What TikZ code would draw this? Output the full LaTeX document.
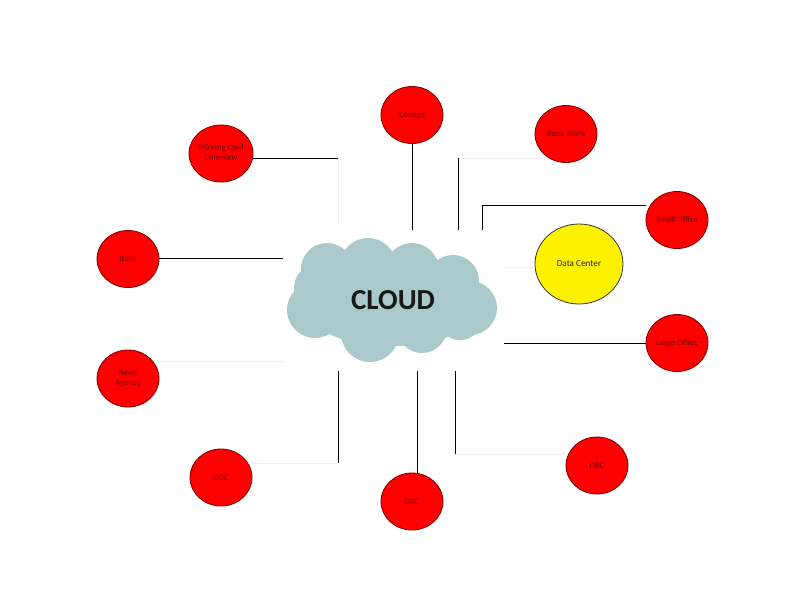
\documentclass[tikz,border=0pt]{standalone}
\usepackage{fontspec}
\setmainfont{Carlito}
\usetikzlibrary{shapes.geometric}
\definecolor{cloudc}{RGB}{170,201,202}
\definecolor{nodered}{RGB}{255,0,0}
\definecolor{txtred}{RGB}{110,0,0}
\definecolor{edgered}{RGB}{120,0,0}
\definecolor{faint}{RGB}{238,238,238}
\tikzset{
  place/.style={ellipse, fill=nodered, draw=edgered, line width=0.8pt, minimum width=62pt, minimum height=57pt, inner sep=0pt, font=\fontsize{8.6}{9.6}\selectfont, text=txtred, align=center},
  dcbox/.style={ellipse, fill=yellow, draw=black!80, line width=0.8pt, minimum width=88pt, minimum height=80pt, inner sep=0pt, font=\fontsize{9.2}{10}\selectfont, text=black!85},
  link/.style={draw=black, line width=1pt},
  faintlink/.style={draw=faint, line width=0.8pt},
  puff/.style={fill=cloudc}
}
\begin{document}
\begin{tikzpicture}[x=1pt,y=-1pt]
\useasboundingbox (0,0) rectangle (800,600);
\fill[white] (0,0) rectangle (800,600);
% cloud
\begin{scope}
\fill[puff] (392,304) ellipse [x radius=90, y radius=42];
\fill[puff] (327,269) circle (26);
\fill[puff] (368,266) circle (28);
\fill[puff] (412,270) circle (27);
\fill[puff] (453,281) circle (26);
\fill[puff] (470,308) circle (27);
\fill[puff] (460,318) circle (22);
\fill[puff] (422,328) circle (25);
\fill[puff] (370,333) circle (29);
\fill[puff] (315,310) circle (28);
\fill[puff] (318,288) circle (24);
\end{scope}
\node[font=\fontsize{29}{32}\selectfont\bfseries, text=black!90] (cloud) at (393,300) {CLOUD};

% nodes
\node[place] (college) at (412,115) {College};
\node[place] (pcc) at (221,153.5) {Printing Card\\Company};
\node[place] (book) at (566,134) {Book Store};
\node[place] (small) at (677,220) {Small Office};
\node[dcbox] (dc) at (579,264) {Data Center};
\node[place] (large) at (677,343) {Large Office};
\node[place] (bank) at (128,259) {Bank};
\node[place] (news) at (128,378.5) {News\\Agency};
\node[place] (odc) at (221,477.5) {ODC};
\node[place] (oac) at (412,501.5) {OAC};
\node[place] (obc) at (597,465.5) {OBC};

% free ends
\coordinate (pccEnd) at (338,158);
\coordinate (pccLow) at (338,225);
\coordinate (colEnd) at (412,230);
\coordinate (bookTop) at (458,158);
\coordinate (bookEnd) at (458,230);
\coordinate (smallCorner) at (482,205);
\coordinate (smallEnd) at (482,230);
\coordinate (bankEnd) at (283,258);
\coordinate (dcEnd) at (503,267);
\coordinate (largeEnd) at (504,343);
\coordinate (newsEnd) at (285,361);
\coordinate (odcCorner) at (338,463);
\coordinate (odcEnd) at (338,371);
\coordinate (oacEnd) at (417,371);
\coordinate (obcCorner) at (455,454);
\coordinate (obcEnd) at (455,371);

% faint connectors
\draw[faintlink] (pccEnd) -- (pccLow);
\draw[faintlink] (bookTop) -- (book.south west |- bookTop);
\draw[faintlink] (dcEnd) -- (dc.west |- dcEnd);
\draw[faintlink] (news.east |- newsEnd) -- (newsEnd);
\draw[faintlink] (odc.east |- odcCorner) -- (odcCorner);
\draw[faintlink] (obcCorner) -- (obc.west |- obcCorner);

% connectors
\draw[link] (pcc.east |- pccEnd) -- (pccEnd);
\draw[link] (college.south) -- (colEnd);
\draw[link] (bookTop) -- (bookEnd);
\draw[link] (small.west |- smallCorner) -- (smallCorner) -- (smallEnd);
\draw[link] (bank.east |- bankEnd) -- (bankEnd);
\draw[link] (large.west) -- (largeEnd);
\draw[link] (odcCorner) -- (odcEnd);
\draw[link] (oacEnd |- oac.north) -- (oacEnd);
\draw[link] (obcCorner) -- (obcEnd);
\end{tikzpicture}
\end{document}
